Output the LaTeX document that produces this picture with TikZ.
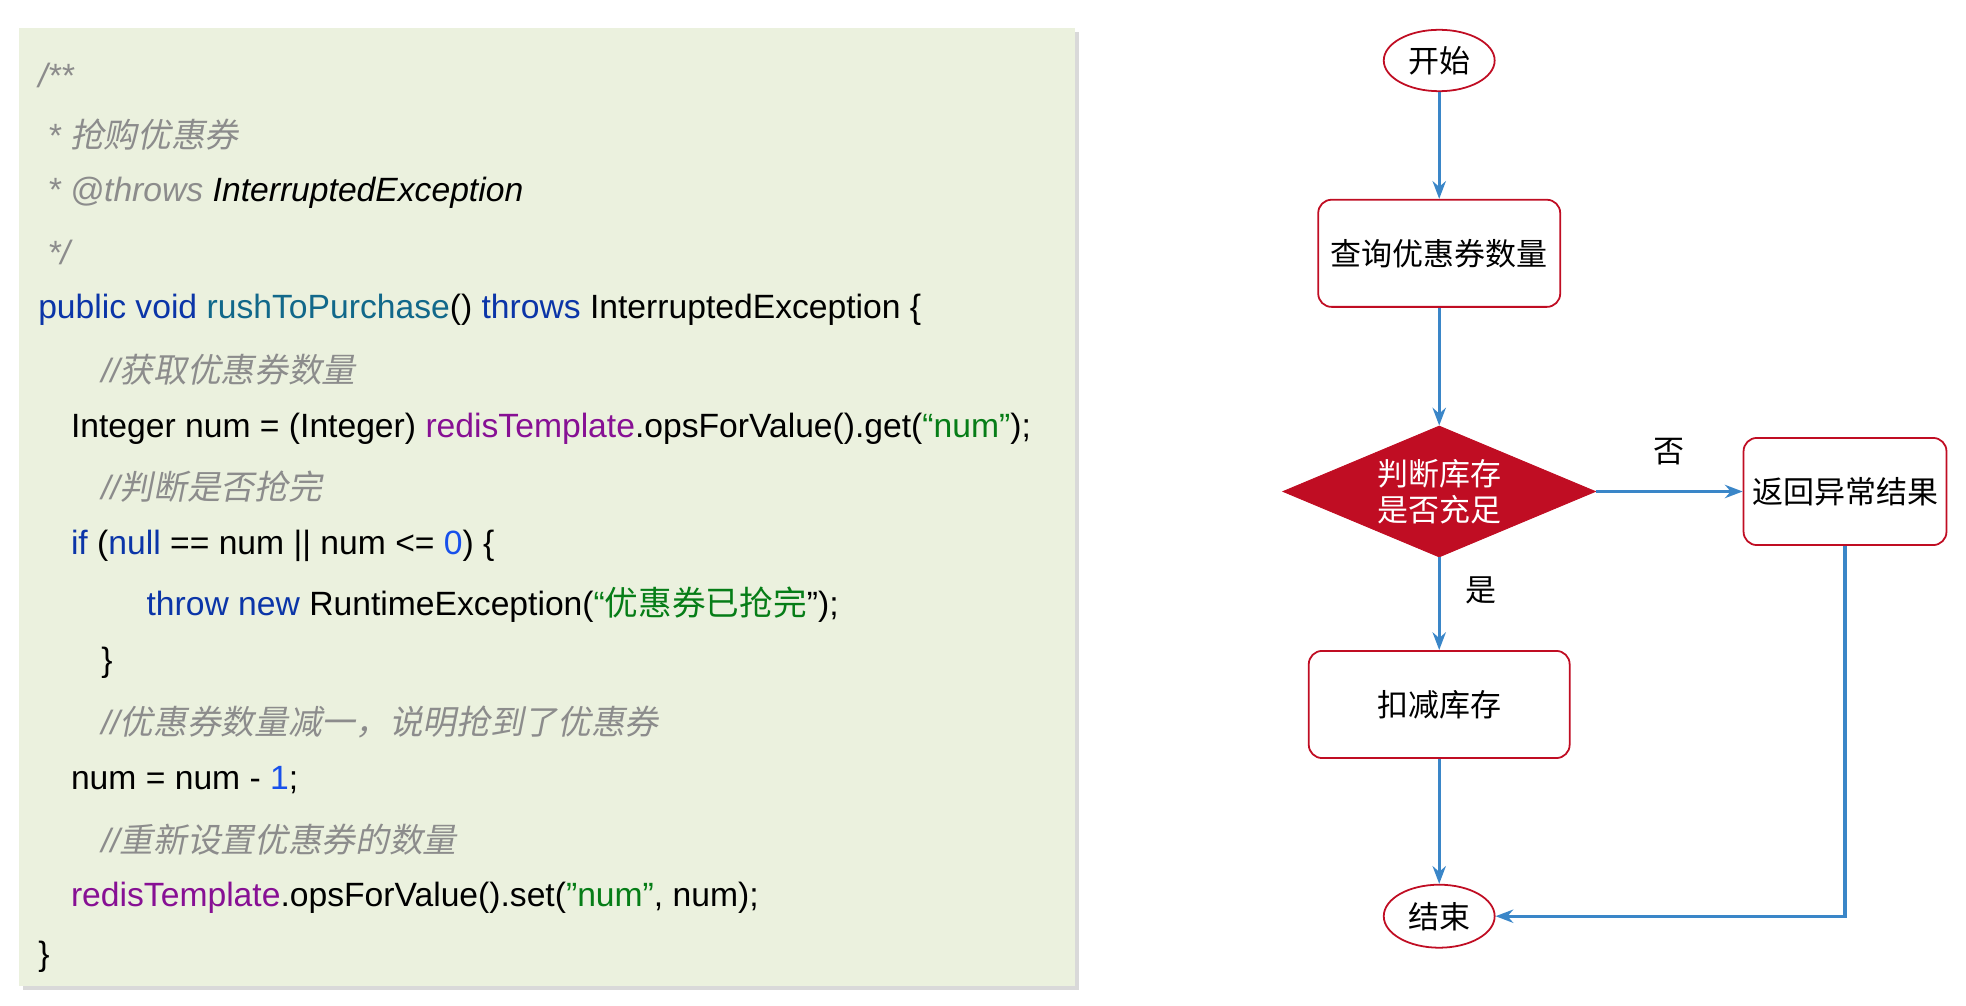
\documentclass[tikz,border=0pt]{standalone}
\usepackage{fontspec}
\setmainfont{Liberation Sans}
\newfontfamily\cjk{Noto Sans CJK SC}
\newfontfamily\cjki{Noto Sans CJK SC}[FakeSlant=0.2]
\usetikzlibrary{positioning,shapes.geometric,arrows.meta,shadows}
\definecolor{codebg}{HTML}{EBF1DE}
\definecolor{kw}{HTML}{0B35A8}
\definecolor{meth}{HTML}{11688A}
\definecolor{fld}{HTML}{871094}
\definecolor{str}{HTML}{067D17}
\definecolor{numc}{HTML}{1750EB}
\definecolor{cmt}{HTML}{8C8C8C}
\definecolor{boxred}{HTML}{C00D23}
\definecolor{flow}{HTML}{3A86C8}
\newcommand{\cm}[1]{{\color{cmt}\itshape #1}}
\newcommand{\cmz}[1]{{\color{cmt}\cjki #1}}
\newcommand{\dq}{\symbol{34}}
\begin{document}
\begin{tikzpicture}[x=0.02cm,y=-0.02cm,
  codeline/.style={anchor=west,font=\fontsize{15.2}{18}\selectfont,inner sep=0pt},
  roundbox/.style={draw=boxred,rounded corners=6pt,fill=white,thick,font=\cjk\fontsize{14}{16}\selectfont},
  terminal/.style={ellipse,draw=boxred,thick,fill=white,minimum width=88*0.02cm,minimum height=48*0.02cm,font=\cjk\fontsize{14}{16}\selectfont},
  flowline/.style={draw=flow,line width=1.4pt,-{Stealth[length=8pt]}}]
  \useasboundingbox (0,0) rectangle (1560,798);
  % code panel
  \fill[codebg,drop shadow={opacity=0.3,shadow xshift=2pt,shadow yshift=-2pt}] (15,22) rectangle (853,782);
  \node[codeline] (l1) at (30,60) {\cm{/**}};
  \node[codeline] (l2) at (30,107) {\cm{ * }\cmz{抢购优惠券}};
  \node[codeline] (l3) at (30,153) {\cm{ * @throws }\textit{InterruptedException}};
  \node[codeline] (l4) at (30,200) {\cm{ */}};
  \node[codeline] (l5) at (30,246) {\color{kw}public void \color{meth}rushToPurchase\color{black}() \color{kw}throws \color{black}InterruptedException \{};
  \node[codeline] (l6) at (80,293) {\cm{//}\cmz{获取优惠券数量}};
  \node[codeline] (l7) at (56,340) {Integer num = (Integer) {\color{fld}redisTemplate}.opsForValue().get({\color{str}“num”});};
  \node[codeline] (l8) at (80,386) {\cm{//}\cmz{判断是否抢完}};
  \node[codeline] (l9) at (56,433) {{\color{kw}if} ({\color{kw}null} == num || num <= {\color{numc}0}) \{};
  \node[codeline] (l10) at (116,480) {{\color{kw}throw new} RuntimeException({\color{str}“\cjk 优惠券已抢完}\dq);};
  \node[codeline] (l11) at (80,526) {\}};
  \node[codeline] (l12) at (80,573) {\cm{//}\cmz{优惠券数量减一，说明抢到了优惠券}};
  \node[codeline] (l13) at (56,619) {num = num - {\color{numc}1};};
  \node[codeline] (l14) at (80,666) {\cm{//}\cmz{重新设置优惠券的数量}};
  \node[codeline] (l15) at (56,712) {{\color{fld}redisTemplate}.opsForValue().set({\color{str}\dq num\dq}, num);};
  \node[codeline] (l16) at (30,759) {\}};
  % flowchart
  \node[terminal] (start) at (1142,48) {开始};
  \node[roundbox,minimum width=192*0.02cm,minimum height=85*0.02cm] (query) at (1142,201) {查询优惠券数量};
  \node[diamond,aspect=2.4,fill=boxred,draw=boxred,text=white,inner sep=1pt,minimum width=248*0.02cm,minimum height=104*0.02cm,font=\cjk\fontsize{14}{16}\selectfont,align=center] (check) at (1142,390) {判断库存\\是否充足};
  \node[roundbox,minimum width=161*0.02cm,minimum height=85*0.02cm] (fail) at (1464,390) {返回异常结果};
  \node[roundbox,minimum width=207*0.02cm,minimum height=85*0.02cm] (deduct) at (1142,559) {扣减库存};
  \node[terminal,minimum height=50*0.02cm] (finish) at (1142,727) {结束};
  \draw[flowline] (start) -- (query);
  \draw[flowline] (query) -- (check);
  \draw[flowline] (check) -- node[above=8pt,black,font=\cjk\fontsize{14}{16}\selectfont] {否} (fail);
  \draw[flowline] (check) -- node[right=8pt,pos=0.35,black,font=\cjk\fontsize{14}{16}\selectfont] {是} (deduct);
  \draw[flowline] (deduct) -- (finish);
  \draw[flowline] (fail.south) |- (finish.east);
\end{tikzpicture}
\end{document}
